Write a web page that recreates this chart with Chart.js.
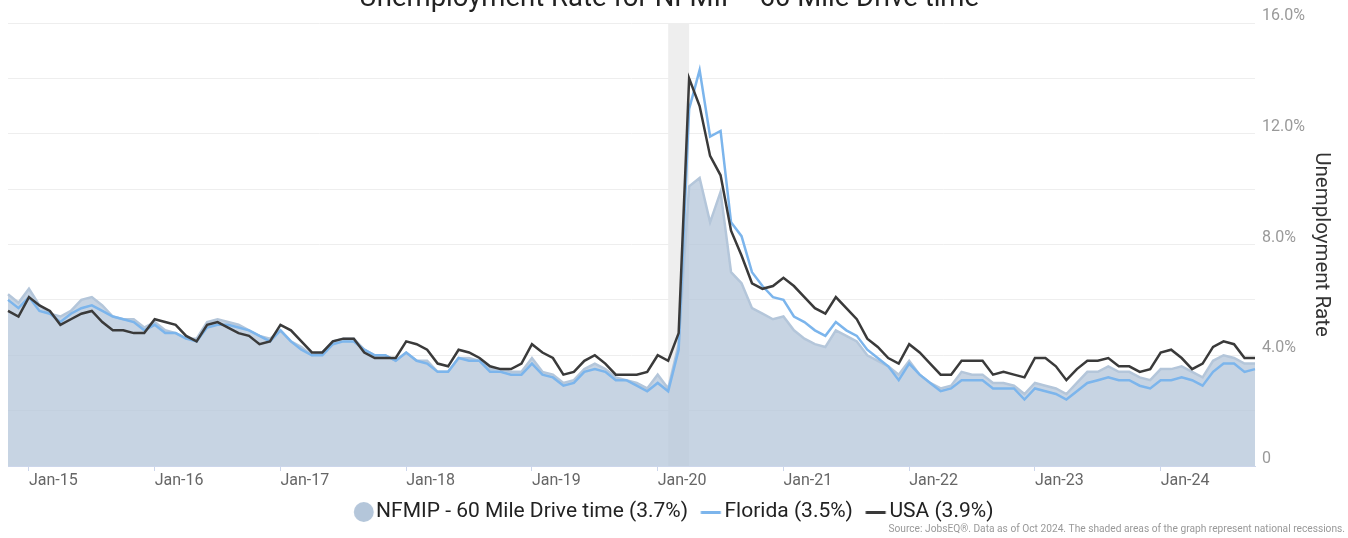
<!DOCTYPE html>
<html lang="en">
<head>
    <meta charset="UTF-8">
    <title>Unemployment Rate for NFMIP - 60 Mile Drive time</title>
    <script src="https://cdn.jsdelivr.net/npm/chart.js"></script>
    <style>
        html, body { margin: 0; padding: 0; background: #fff; overflow: hidden; }
        /* the title sits partly above the page edge, like the original export */
        #wrap { position: absolute; left: 0; top: -17px; width: 1348px; height: 555px; }
    </style>
</head>
<body>
<div id="wrap"><canvas id="rateChart"></canvas></div>

<script>
    // ** Data: monthly unemployment rate (%), Nov-14 .. Oct-24 **
    let nfmip = [
        6.2, 5.9,
        6.4, 5.8, 5.5, 5.4, 5.6, 6.0, 6.1, 5.8, 5.4, 5.3, 5.3, 5.0,
        5.2, 4.9, 4.8, 4.6, 4.6, 5.2, 5.3, 5.2, 5.1, 4.9, 4.7, 4.6,
        4.9, 4.5, 4.3, 4.0, 4.1, 4.5, 4.6, 4.6, 4.2, 4.0, 4.0, 3.8,
        4.1, 3.8, 3.8, 3.4, 3.4, 3.9, 3.9, 3.8, 3.5, 3.5, 3.4, 3.4,
        3.9, 3.4, 3.3, 3.0, 3.1, 3.5, 3.7, 3.5, 3.2, 3.1, 3.0, 2.8,
        3.3, 2.8, 4.4, 10.1, 10.4, 8.8, 9.9, 7.0, 6.6, 5.7, 5.5, 5.3,
        5.4, 4.9, 4.6, 4.4, 4.3, 4.9, 4.7, 4.5, 4.0, 3.8, 3.6, 3.3,
        3.8, 3.3, 3.0, 2.8, 2.9, 3.4, 3.3, 3.3, 3.0, 3.0, 2.9, 2.6,
        3.0, 2.9, 2.8, 2.6, 3.0, 3.4, 3.4, 3.6, 3.4, 3.4, 3.2, 3.1,
        3.5, 3.5, 3.6, 3.4, 3.2, 3.8, 4.0, 3.9, 3.7, 3.7
    ];
    let florida = [
        6.0, 5.7,
        6.1, 5.6, 5.5, 5.2, 5.5, 5.7, 5.8, 5.6, 5.4, 5.3, 5.2, 4.9,
        5.1, 4.8, 4.8, 4.6, 4.5, 5.0, 5.1, 5.1, 5.0, 4.9, 4.7, 4.5,
        4.9, 4.5, 4.2, 4.0, 4.0, 4.4, 4.5, 4.5, 4.2, 4.0, 4.0, 3.8,
        4.1, 3.8, 3.7, 3.4, 3.4, 3.9, 3.8, 3.8, 3.4, 3.4, 3.3, 3.3,
        3.7, 3.3, 3.2, 2.9, 3.0, 3.4, 3.5, 3.4, 3.1, 3.1, 2.9, 2.7,
        3.0, 2.7, 4.2, 12.9, 14.3, 11.9, 12.1, 8.8, 8.3, 7.0, 6.5, 6.1,
        6.0, 5.4, 5.2, 4.9, 4.7, 5.2, 4.9, 4.7, 4.2, 3.9, 3.6, 3.1,
        3.7, 3.3, 3.0, 2.7, 2.8, 3.1, 3.1, 3.1, 2.8, 2.8, 2.8, 2.4,
        2.8, 2.7, 2.6, 2.4, 2.7, 3.0, 3.1, 3.2, 3.1, 3.1, 2.9, 2.8,
        3.1, 3.1, 3.2, 3.1, 2.9, 3.4, 3.7, 3.7, 3.4, 3.5
    ];
    let usa = [
        5.6, 5.4,
        6.1, 5.8, 5.6, 5.1, 5.3, 5.5, 5.6, 5.2, 4.9, 4.9, 4.8, 4.8,
        5.3, 5.2, 5.1, 4.7, 4.5, 5.1, 5.2, 5.0, 4.8, 4.7, 4.4, 4.5,
        5.1, 4.9, 4.5, 4.1, 4.1, 4.5, 4.6, 4.6, 4.1, 3.9, 3.9, 3.9,
        4.5, 4.4, 4.2, 3.7, 3.6, 4.2, 4.1, 3.9, 3.6, 3.5, 3.5, 3.7,
        4.4, 4.1, 3.9, 3.3, 3.4, 3.8, 4.0, 3.7, 3.3, 3.3, 3.3, 3.4,
        4.0, 3.8, 4.8, 14.0, 13.0, 11.2, 10.5, 8.5, 7.6, 6.6, 6.4, 6.5,
        6.8, 6.5, 6.1, 5.7, 5.5, 6.1, 5.7, 5.3, 4.6, 4.3, 3.9, 3.7,
        4.4, 4.1, 3.7, 3.3, 3.3, 3.8, 3.8, 3.8, 3.3, 3.4, 3.3, 3.2,
        3.9, 3.9, 3.6, 3.1, 3.5, 3.8, 3.8, 3.9, 3.6, 3.6, 3.4, 3.5,
        4.1, 4.2, 3.9, 3.5, 3.7, 4.3, 4.5, 4.4, 3.9, 3.9
    ];

    let seriesNames = ["NFMIP - 60 Mile Drive time", "Florida", "USA"];
    let colors = ["#b4c6da", "#7cb5ec", "#3a3a3a"];
    let yTicks = [0, 4, 8, 12, 16];
    let recession = ["Feb-20", "Apr-20"];
    let sourceText = "Source: JobsEQ\u00AE. Data as of Oct 2024. The shaded areas of the graph represent national recessions.";

    // month labels, starting at Nov-14
    let monthNames = ["Jan","Feb","Mar","Apr","May","Jun","Jul","Aug","Sep","Oct","Nov","Dec"];
    let months = [];
    for (let y = 2014, m = 10; months.length < usa.length; m++) {
        if (m === 12) { m = 0; y++; }
        months.push(monthNames[m] + "-" + String(y).slice(2));
    }

    let last = arr => arr[arr.length - 1].toFixed(1);

    Chart.defaults.font.family = "Roboto, 'Noto Sans', sans-serif";

    // legend markers, drawn as small canvases so they sit close to the text
    function circleMarker(color) {
        let c = document.createElement("canvas");
        c.width = 40; c.height = 20;
        let g = c.getContext("2d");
        g.fillStyle = color;
        g.beginPath();
        g.arc(28.75, 10, 10, 0, Math.PI * 2);
        g.fill();
        return c;
    }
    function lineMarker(color) {
        let c = document.createElement("canvas");
        c.width = 40; c.height = 3;
        let g = c.getContext("2d");
        g.fillStyle = color;
        g.fillRect(17.25, 0, 20, 3);
        return c;
    }

    // grey band for recessions
    const recessionBand = {
        id: "recessionBand",
        beforeDraw(chart) {
            const {ctx, chartArea, scales} = chart;
            const x0 = scales.x.getPixelForValue(months.indexOf(recession[0]));
            const x1 = scales.x.getPixelForValue(months.indexOf(recession[1]));
            ctx.save();
            ctx.fillStyle = "#eeeeee";
            ctx.fillRect(x0, chartArea.top, x1 - x0, chartArea.bottom - chartArea.top);
            ctx.restore();
        }
    };

    // source line, bottom right
    const sourceNote = {
        id: "sourceNote",
        afterDraw(chart) {
            const ctx = chart.ctx;
            ctx.save();
            ctx.font = "10.2px Roboto";
            ctx.fillStyle = "#999999";
            ctx.textAlign = "right";
            ctx.textBaseline = "middle";
            ctx.fillText(sourceText, chart.width - 3, chart.height - 9);
            ctx.restore();
        }
    };

    new Chart(document.getElementById("rateChart"), {
        type: "line",
        data: {
            labels: months,
            datasets: [
                {
                    label: seriesNames[0] + " (" + last(nfmip) + "%)",
                    data: nfmip,
                    borderColor: colors[0],
                    backgroundColor: "rgba(180,198,218,0.75)",
                    borderWidth: 2.5,
                    fill: "origin",
                    order: 3
                },
                {
                    label: seriesNames[1] + " (" + last(florida) + "%)",
                    data: florida,
                    borderColor: colors[1],
                    backgroundColor: colors[1],
                    borderWidth: 2.5,
                    fill: false,
                    order: 2
                },
                {
                    label: seriesNames[2] + " (" + last(usa) + "%)",
                    data: usa,
                    borderColor: colors[2],
                    backgroundColor: colors[2],
                    borderWidth: 2.5,
                    fill: false,
                    order: 1
                }
            ]
        },
        options: {
            responsive: true,
            maintainAspectRatio: false,
            animation: false,
            layout: { padding: { left: 8, right: 18, top: 0, bottom: 5.5 } },
            elements: {
                point: { radius: 0, hoverRadius: 0 },
                line: { tension: 0 }
            },
            scales: {
                x: {
                    ticks: {
                        autoSkip: false,
                        maxRotation: 0,
                        align: "start",
                        color: "#666666",
                        font: { size: 16 },
                        padding: 0
                    },
                    grid: { drawOnChartArea: false, drawTicks: true, tickLength: 5, color: "#ccd6eb" },
                    border: { color: "#ccd6eb" },
                    afterBuildTicks: scale => {
                        scale.ticks = scale.ticks.filter(t => months[t.value].startsWith("Jan"));
                    },
                    afterFit: scale => { scale.height = 30.5; }
                },
                y: {
                    position: "right",
                    min: 0,
                    max: 16,
                    ticks: {
                        stepSize: 2,
                        padding: 7,
                        labelOffset: -7,
                        color: "#999999",
                        font: { size: 16 },
                        callback: v => yTicks.includes(v) ? (v === 0 ? "0" : v.toFixed(1) + "%") : ""
                    },
                    grid: { color: "#eeeeee", drawTicks: false },
                    border: { display: false },
                    title: {
                        display: true,
                        text: "Unemployment Rate",
                        color: "#333333",
                        font: { size: 20.5 },
                        padding: { top: -3, bottom: 0 }
                    },
                    afterFit: scale => { scale.width = 75; }
                }
            },
            plugins: {
                title: {
                    display: true,
                    text: "Unemployment Rate for NFMIP - 60 Mile Drive time",
                    color: "#222222",
                    font: { size: 27.5, weight: "normal" },
                    padding: { top: 0, bottom: 7 }
                },
                legend: {
                    position: "bottom",
                    labels: {
                        usePointStyle: true,
                        boxWidth: 23.5,
                        boxHeight: 14,
                        padding: 5,
                        color: "#222222",
                        font: { size: 21 },
                        sort: (a, b) => a.datasetIndex - b.datasetIndex,
                        generateLabels: chart => {
                            let items = Chart.defaults.plugins.legend.labels.generateLabels(chart);
                            items.forEach(it => {
                                let col = colors[it.datasetIndex];
                                it.pointStyle = it.datasetIndex === 0 ? circleMarker(col) : lineMarker(col);
                            });
                            return items;
                        }
                    }
                },
                tooltip: { enabled: false }
            }
        },
        plugins: [recessionBand, sourceNote]
    });
</script>
</body>
</html>
